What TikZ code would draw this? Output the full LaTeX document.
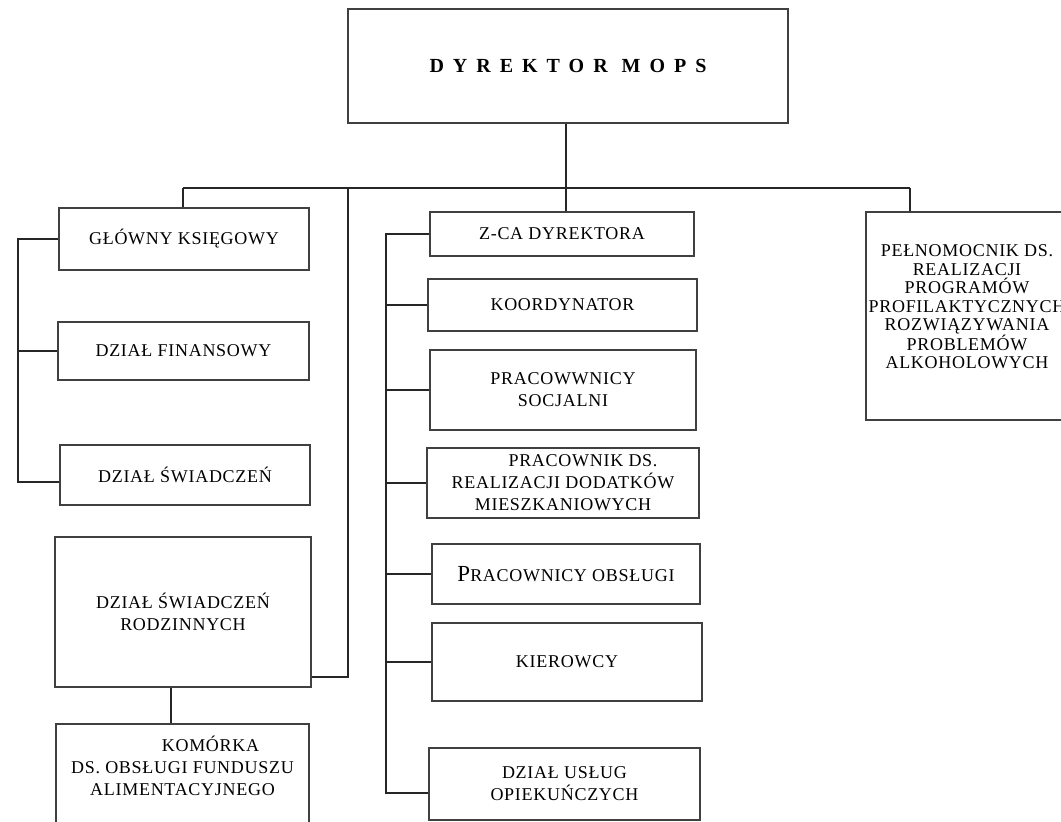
\documentclass[tikz,border=0pt]{standalone}
\usepackage{fontspec}
\setmainfont[LetterSpace=4]{Liberation Serif}
\newfontfamily\headfont[LetterSpace=45]{Liberation Serif}
\usetikzlibrary{calc}
\newcommand{\mylinecolor}{black!85}
\newcommand{\myboxcolor}{black!75}

\begin{document}
\begin{tikzpicture}[x=1pt,y=-1pt,
    unit/.style={draw=\myboxcolor, line width=1.6pt, rectangle, inner sep=0pt,
                 align=center, font=\fontsize{18}{22}\selectfont},
    plain/.style={inner sep=0pt, align=center, font=\fontsize{18}{22}\selectfont},
    link/.style={draw=\mylinecolor, line width=1.5pt}]

 \path[use as bounding box, fill=white] (0,0) rectangle (1061,822);

 \node[unit, minimum width=440, minimum height=114, font=\headfont\fontsize{20}{22}\selectfont\bfseries] (dyr) at (568,66) {DYREKTOR MOPS};

 \node[unit, minimum width=250, minimum height=62] (ksieg) at (184,239) {GŁÓWNY KSIĘGOWY};
 \node[unit, minimum width=251, minimum height=58] (fin) at (183.5,351) {DZIAŁ FINANSOWY};
 \node[unit, minimum width=250, minimum height=60] (swiad) at (185,475) {DZIAŁ ŚWIADCZEŃ};
 \node[unit, minimum width=256, minimum height=150] (rodz) at (183,612) {DZIAŁ ŚWIADCZEŃ\\RODZINNYCH};
 \node[unit, minimum width=253, minimum height=126] (kom) at (182.5,787) {};
 \node[plain] (komtxt) at (182.5,766) {\hspace*{56pt}KOMÓRKA\\DS. OBSŁUGI FUNDUSZU\\ALIMENTACYJNEGO};

 \node[unit, minimum width=264, minimum height=44] (zca) at (562,234) {Z-CA DYREKTORA};
 \node[unit, minimum width=269, minimum height=52] (koord) at (562.5,305) {KOORDYNATOR};
 \node[unit, minimum width=266, minimum height=80] (socj) at (563,390) {PRACOWWNICY\\SOCJALNI};
 \node[unit, minimum width=272, minimum height=70] (dodat) at (563,483) {\hspace*{40pt}PRACOWNIK DS.\\REALIZACJI DODATKÓW\\MIESZKANIOWYCH};
 \node[unit, minimum width=268, minimum height=60] (obsl) at (566,574) {{\fontsize{23}{22}\selectfont P}RACOWNICY OBSŁUGI};
 \node[unit, minimum width=270, minimum height=78] (kier) at (567,662) {KIEROWCY};
 \node[unit, minimum width=271, minimum height=72] (opiek) at (564.5,784) {DZIAŁ USŁUG\\OPIEKUŃCZYCH};

 \node[unit, minimum width=206, minimum height=208] (pelnom) at (969,316) {};
 \node[plain, font=\fontsize{18}{18.4}\selectfont] (pelnomtxt) at (967,307) {PEŁNOMOCNIK DS.\\REALIZACJI\\PROGRAMÓW\\PROFILAKTYCZNYCH\\ROZWIĄZYWANIA\\PROBLEMÓW\\ALKOHOLOWYCH};

 \coordinate (busL) at (183,188);
 \coordinate (busK) at (348,188);
 \coordinate (busM) at (566,188);
 \coordinate (busR) at (910,188);
 \coordinate (spineL) at (18,0);
 \coordinate (spineM) at (386,0);
 \coordinate (swiadTie) at ([yshift=-7pt]swiad.west);
 \coordinate (opiekTie) at ([yshift=-9pt]opiek.west);

 \draw[link] (busL) -- (busR);
 \draw[link] (dyr.south -| busM) -- (busM |- zca.north);
 \draw[link] (busL) -- (busL |- ksieg.north);
 \draw[link] (busR) -- (busR |- pelnom.north);
 \draw[link] (busK) |- ([yshift=11pt]rodz.south east);
 \draw[link] ([xshift=-12pt]rodz.south) -- ([xshift=-12pt]rodz.south |- kom.north);

 \draw[link] (ksieg.west) -| (spineL |- swiadTie) -- (swiadTie);
 \draw[link] (fin.west) -- (fin.west -| spineL);

 \draw[link] (zca.west) -| (spineM |- opiekTie) -- (opiekTie);
 \foreach \n in {koord,socj,dodat,obsl,kier}
   \draw[link] (\n.west) -- (\n.west -| spineM);

\end{tikzpicture}
\end{document}
